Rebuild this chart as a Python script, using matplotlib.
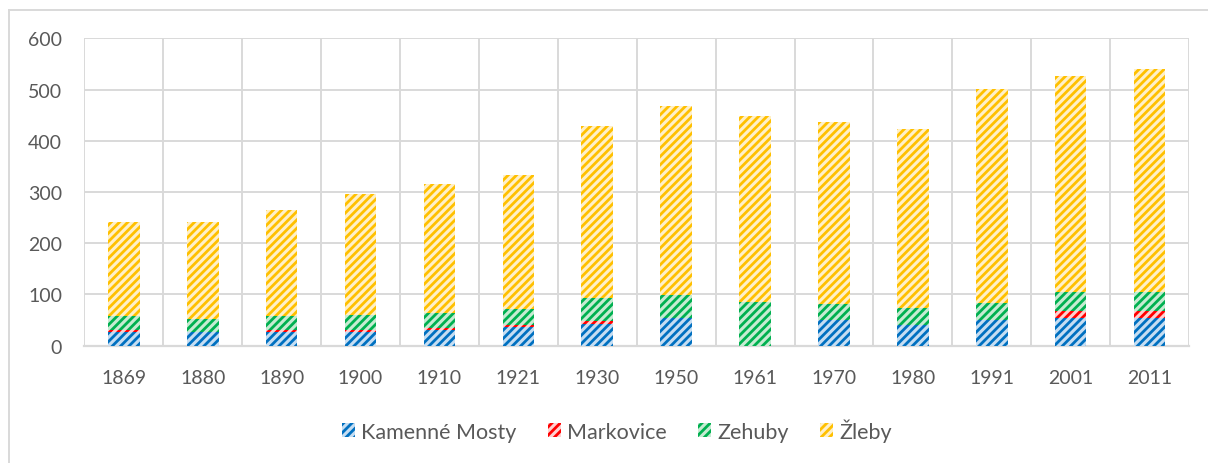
import matplotlib
matplotlib.use("Agg")
import matplotlib.pyplot as plt
import numpy as np
from matplotlib.patches import Patch
from matplotlib.lines import Line2D

years = ["1869", "1880", "1890", "1900", "1910", "1921", "1930",
         "1950", "1961", "1970", "1980", "1991", "2001", "2011"]
kamenne_mosty = [27, 26, 27, 27, 31, 36, 42, 55, 0, 51, 41, 50, 54, 54]
markovice = [3, 0, 3, 4, 4, 5, 7, 0, 0, 0, 0, 0, 14, 13]
zehuby = [27, 26, 27, 29, 29, 30, 44, 43, 85, 31, 32, 34, 36, 37]
totals = [241, 241, 265, 297, 316, 333, 428, 467, 448, 437, 422, 501, 526, 541]
zleby = [t - a - b - c for t, a, b, c in zip(totals, kamenne_mosty, markovice, zehuby)]

series_names = ["Kamenné Mosty", "Markovice", "Zehuby", "Žleby"]
dark_colors = ["#0070C0", "#FF0000", "#00B050", "#FFC000"]
light_colors = ["#C5DDF2", "#FFD0D0", "#C6EBD2", "#FFF0C8"]
yticks = [0, 100, 200, 300, 400, 500, 600]

plt.rcParams['font.family'] = ['Lato', 'DejaVu Sans']
plt.rcParams['hatch.linewidth'] = 2.0

W, H = 1208, 464
fig = plt.figure(figsize=(W / 100, H / 100), dpi=100)
left, right, top, bottom = 84.4, 1189, 39.3, 346.7
ax = fig.add_axes([left / W, 1 - bottom / H, (right - left) / W, (bottom - top) / H])

x = np.arange(len(years))
data = [kamenne_mosty, markovice, zehuby, zleby]
base = np.zeros(len(years))
for vals, name, dc, lc in zip(data, series_names, dark_colors, light_colors):
    v = np.array(vals, dtype=float)
    ax.bar(x, v, width=0.4, bottom=base, facecolor=lc, edgecolor=dc,
           hatch='////', linewidth=0, zorder=3, label=name)
    base += v

ax.set_xlim(-0.5, len(years) - 0.5)
ax.set_ylim(0, 600)
ax.set_yticks(yticks)
ax.set_xticks(x)
ax.set_xticklabels(years)
ax.set_xticks(np.arange(-0.5, len(years), 1.0), minor=True)
ax.tick_params(axis='both', which='both', length=0)
ax.tick_params(axis='y', pad=16, labelsize=14, labelcolor='#595959')
ax.tick_params(axis='x', pad=17, labelsize=14, labelcolor='#595959')
ax.grid(axis='y', which='major', color='#D9D9D9', linewidth=1.4, zorder=0)
ax.grid(axis='x', which='minor', color='#D9D9D9', linewidth=1.4, zorder=0)
ax.grid(axis='x', which='major', visible=False)
for s in ['top', 'right', 'left']:
    ax.spines[s].set_visible(False)
ax.spines['bottom'].set_color('#D9D9D9')
ax.spines['bottom'].set_linewidth(1.6)

handles = [Patch(facecolor=lc, edgecolor=dc, hatch='////', linewidth=0)
           for dc, lc in zip(dark_colors, light_colors)]
leg = fig.legend(handles, series_names, loc='center', bbox_to_anchor=(617 / W, 1 - 431 / H),
                 ncol=4, frameon=False, fontsize=15.5, handlelength=0.6, handleheight=0.6,
                 handletextpad=0.3, columnspacing=1.45)
for t in leg.get_texts():
    t.set_color('#595959')

# outer chart frame (left and top edges visible)
fig.add_artist(Line2D([9 / W, 9 / W], [0, 1 - 11 / H], transform=fig.transFigure,
                      color='#D9D9D9', linewidth=1.4))
fig.add_artist(Line2D([9 / W, 1], [1 - 11 / H, 1 - 11 / H], transform=fig.transFigure,
                      color='#D9D9D9', linewidth=1.4))

fig.savefig("out.png", dpi=100)
